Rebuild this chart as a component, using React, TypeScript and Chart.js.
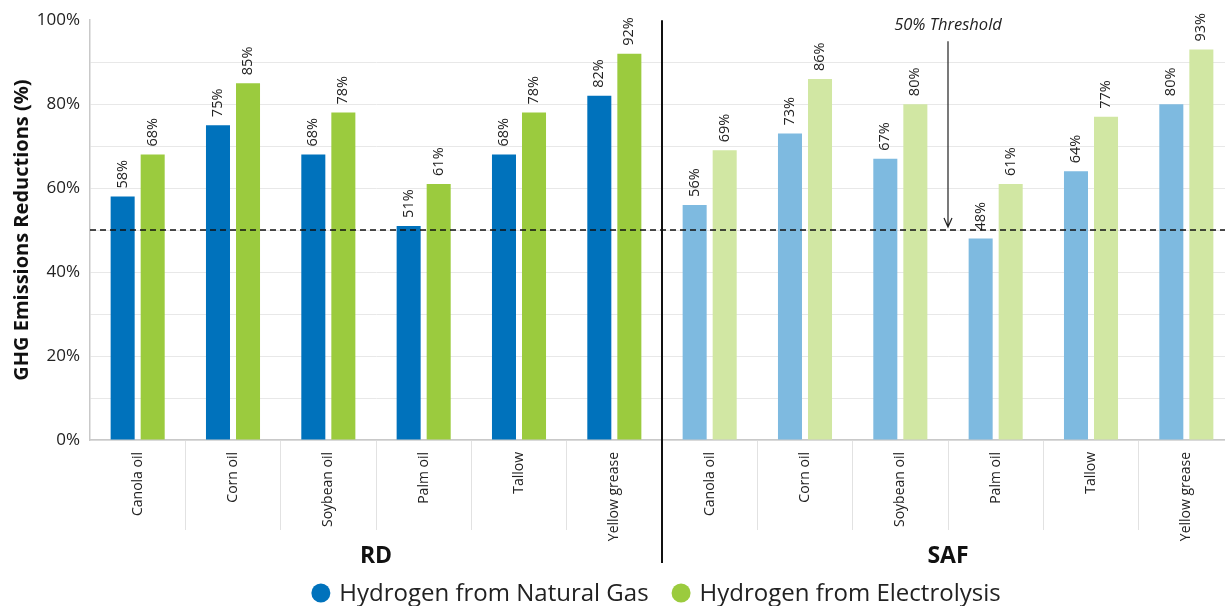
import React, { useEffect, useRef } from 'react';
import { Chart, registerables } from 'chart.js';

Chart.register(...registerables);

const FONT = "'Open Sans', 'Noto Sans', sans-serif";

const categories = [
  'Canola oil', 'Corn oil', 'Soybean oil', 'Palm oil', 'Tallow', 'Yellow grease',
  'Canola oil', 'Corn oil', 'Soybean oil', 'Palm oil', 'Tallow', 'Yellow grease',
];
const groupLabels = ['RD', 'SAF'];
const groupSize = 6;

const seriesNames = ['Hydrogen from Natural Gas', 'Hydrogen from Electrolysis'];
const naturalGas = [58, 75, 68, 51, 68, 82, 56, 73, 67, 48, 64, 80];
const electrolysis = [68, 85, 78, 61, 78, 92, 69, 86, 80, 61, 77, 93];

const naturalGasColors = ['#0072BC', '#7EBAE0'];
const electrolysisColors = ['#9BCB3E', '#D1E7A3'];

const yMin = 0;
const yMax = 100;
const yStep = 10;
const yLabelStep = 20;
const threshold = 50;
const thresholdLabel = '50% Threshold';
const yTitle = 'GHG Emissions Reductions (%)';

const colorsFor = (pair: string[]) => categories.map((_, i) => pair[Math.floor(i / groupSize)]);

const annotations = {
  id: 'annotations',
  afterDatasetsDraw(chart: any) {
    const { ctx, chartArea } = chart;
    const xs = chart.scales.x;
    const ys = chart.scales.y;
    // value labels
    ctx.save();
    ctx.font = `14.5px ${FONT}`;
    ctx.fillStyle = '#222';
    ctx.textAlign = 'left';
    ctx.textBaseline = 'middle';
    chart.data.datasets.forEach((ds: any, di: number) => {
      const meta = chart.getDatasetMeta(di);
      meta.data.forEach((bar: any, i: number) => {
        ctx.save();
        ctx.translate(bar.x, bar.y - 8);
        ctx.rotate(-Math.PI / 2);
        ctx.fillText(`${ds.data[i]}%`, 0, 0);
        ctx.restore();
      });
    });
    ctx.restore();

    // threshold line
    const ty = ys.getPixelForValue(threshold);
    ctx.save();
    ctx.strokeStyle = '#111';
    ctx.lineWidth = 1.5;
    ctx.setLineDash([6, 4]);
    ctx.beginPath();
    ctx.moveTo(chartArea.left, ty);
    ctx.lineTo(chartArea.right, ty);
    ctx.stroke();
    ctx.restore();

    // separator between groups
    const sepX = (xs.getPixelForValue(groupSize - 1) + xs.getPixelForValue(groupSize)) / 2;
    ctx.save();
    ctx.strokeStyle = '#111';
    ctx.lineWidth = 2;
    ctx.beginPath();
    ctx.moveTo(sepX, chartArea.top);
    ctx.lineTo(sepX, 563);
    ctx.stroke();
    ctx.restore();

    // threshold arrow + label
    const ax = (xs.getPixelForValue(8) + xs.getPixelForValue(9)) / 2;
    ctx.save();
    ctx.strokeStyle = '#222';
    ctx.lineWidth = 1.2;
    ctx.beginPath();
    ctx.moveTo(ax, chartArea.top + 21);
    ctx.lineTo(ax, ty - 3);
    ctx.moveTo(ax - 4, ty - 12);
    ctx.lineTo(ax, ty - 3);
    ctx.lineTo(ax + 4, ty - 12);
    ctx.stroke();
    ctx.fillStyle = '#222';
    ctx.font = `italic 16.5px ${FONT}`;
    ctx.textAlign = 'center';
    ctx.textBaseline = 'middle';
    ctx.fillText(thresholdLabel, ax, chartArea.top + 5);
    ctx.restore();

    // group labels
    ctx.save();
    ctx.fillStyle = '#111';
    ctx.font = `bold 23px ${FONT}`;
    ctx.textAlign = 'center';
    ctx.textBaseline = 'middle';
    groupLabels.forEach((g, gi) => {
      const a = xs.getPixelForValue(gi * groupSize);
      const b = xs.getPixelForValue(gi * groupSize + groupSize - 1);
      ctx.fillText(g, (a + b) / 2, 556);
    });
    ctx.restore();

    // legend
    ctx.save();
    ctx.font = `24px ${FONT}`;
    ctx.textBaseline = 'middle';
    ctx.textAlign = 'left';
    const r = 9.5;
    const gapIcon = 9;
    const gapItems = 23;
    const widths = seriesNames.map((n) => ctx.measureText(n).width);
    const total = widths.reduce((s, w) => s + w + 2 * r + gapIcon, 0) + gapItems;
    let x = (chartArea.left + chartArea.right) / 2 - 6 - total / 2;
    const ly = 593;
    const legendColors = [naturalGasColors[0], electrolysisColors[0]];
    seriesNames.forEach((n, i) => {
      ctx.fillStyle = legendColors[i];
      ctx.beginPath();
      ctx.arc(x + r, ly, r, 0, Math.PI * 2);
      ctx.fill();
      x += 2 * r + gapIcon;
      ctx.fillStyle = '#222';
      ctx.fillText(n, x, ly + 1);
      x += widths[i] + gapItems;
    });
    ctx.restore();
  },
};

export default function App() {
  const ref = useRef<HTMLCanvasElement | null>(null);
  useEffect(() => {
    if (!ref.current) return;
    Chart.defaults.font.family = FONT;
    const chart = new Chart(ref.current, {
      type: 'bar',
      data: {
        labels: categories,
        datasets: [
          {
            label: seriesNames[0],
            data: naturalGas,
            backgroundColor: colorsFor(naturalGasColors),
            borderWidth: 0,
            categoryPercentage: 0.63,
            barPercentage: 0.8,
          },
          {
            label: seriesNames[1],
            data: electrolysis,
            backgroundColor: colorsFor(electrolysisColors),
            borderWidth: 0,
            categoryPercentage: 0.63,
            barPercentage: 0.8,
          },
        ],
      },
      options: {
        animation: false,
        responsive: false,
        devicePixelRatio: 1,
        layout: { padding: { top: 20, left: 0, right: 0, bottom: 0 } },
        plugins: {
          legend: { display: false },
          tooltip: { enabled: false },
        },
        scales: {
          x: {
            grid: {
              display: true,
              offset: true,
              drawOnChartArea: false,
              drawTicks: true,
              tickLength: 90,
              color: (c: any) => (c.index === 0 || c.index === groupSize ? 'rgba(0,0,0,0)' : '#e2e2e2'),
              lineWidth: 1,
            },
            border: { display: true, color: '#c9c9c9', width: 1.5 },
            ticks: {
              autoSkip: false,
              minRotation: 90,
              maxRotation: 90,
              padding: -78,
              color: '#222',
              font: { size: 14, family: FONT },
            },
            afterFit: (s: any) => {
              s.height = 166;
            },
          },
          y: {
            min: yMin,
            max: yMax,
            ticks: {
              stepSize: yStep,
              callback: (v: any) => (Number(v) % yLabelStep === 0 ? `${v}%` : ''),
              color: '#222',
              padding: 10,
              font: { size: 17, family: FONT },
            },
            grid: {
              drawTicks: false,
              color: (c: any) => (c.tick && c.tick.value === yMax ? 'rgba(0,0,0,0)' : '#e8e8e8'),
            },
            border: { display: true, color: '#c9c9c9', width: 1.5 },
            title: {
              display: true,
              text: yTitle,
              color: '#111',
              font: { size: 20, weight: 'bold', family: FONT },
              padding: { top: 10, bottom: 0 },
            },
            afterFit: (s: any) => {
              s.width = 90;
            },
          },
        },
      },
      plugins: [annotations],
    } as any);
    return () => chart.destroy();
  }, []);
  return (
    <canvas
      ref={ref}
      width={1234}
      height={606}
      style={{ position: 'fixed', left: 0, top: 0, width: 1234, height: 606 }}
    />
  );
}
